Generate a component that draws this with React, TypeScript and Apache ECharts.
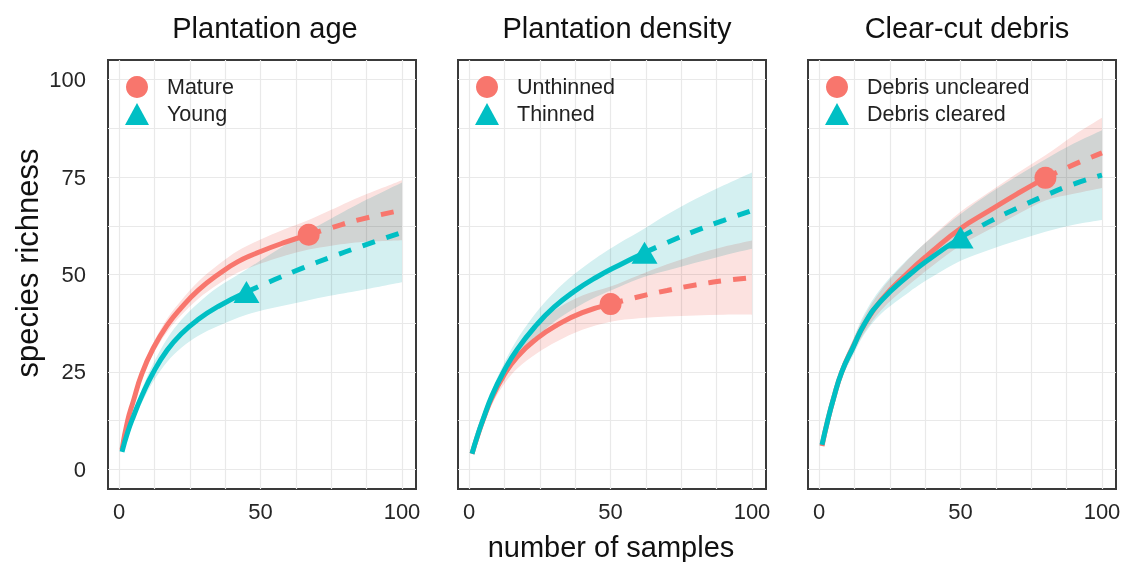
import React, { useEffect, useRef } from "react";
import * as echarts from "echarts";

const FONT = "'Liberation Sans', Arial, Helvetica, sans-serif";
const RED = "#F8766D";
const TEAL = "#00BFC4";
const RED_BAND = "#fce2e0";
const TEAL_BAND = "#d4f0f1";

const panelTitles = ["Plantation age", "Plantation density", "Clear-cut debris"];
const xTickLabels = [0, 50, 100];
const yTickLabels = [0, 25, 50, 75, 100];
const gridSteps = [0, 12.5, 25, 37.5, 50, 62.5, 75, 87.5, 100];

// Panel 1: Plantation age
const matureX = [1, 3, 5, 8, 12, 17, 22, 28, 35, 42, 50, 58, 67, 75, 85, 100];
const matureY = [5, 12.5, 17.5, 24.5, 31, 37, 41.5, 46, 50, 53.3, 55.9, 58.1, 60.2, 62, 64.1, 66.5];
const matureLo = [4.7, 11.9, 16.7, 23.4, 29.6, 35.3, 39.6, 43.8, 47.5, 50.5, 52.8, 54.7, 56.4, 57.4, 58.3, 58.8];
const matureHi = [5.3, 13.1, 18.3, 25.6, 32.4, 38.7, 43.4, 48.2, 52.5, 56.1, 59.0, 61.5, 64.0, 66.6, 69.9, 74.2];
const matureObs = 67;

const youngX = [1, 3, 5, 8, 12, 17, 22, 28, 35, 45, 55, 65, 75, 85, 100];
const youngY = [4.5, 9.5, 13.5, 18.8, 24.8, 30.6, 34.8, 38.5, 41.8, 45.5, 48.7, 51.7, 54.5, 57.1, 60.8];
const youngLo = [4.2, 8.8, 12.3, 17.1, 22.5, 27.6, 31.2, 34.3, 36.8, 39.7, 41.5, 43.1, 44.6, 45.9, 48.0];
const youngHi = [4.8, 10.2, 14.7, 20.5, 27.1, 33.6, 38.4, 42.7, 46.8, 51.3, 55.9, 60.3, 64.4, 68.3, 73.6];
const youngObs = 45;

// Panel 2: Plantation density
const unthinnedX = [1, 3, 5, 8, 12, 17, 24, 31, 40, 50, 60, 70, 80, 90, 100];
const unthinnedY = [4, 8.6, 12.8, 18.3, 23.8, 28.9, 33.6, 37, 40.2, 42.4, 44.3, 45.9, 47.3, 48.4, 49.2];
const unthinnedLo = [3.7, 7.9, 11.6, 16.5, 21.5, 25.9, 29.8, 32.8, 35.8, 37.9, 38.8, 39.2, 39.5, 39.7, 39.7];
const unthinnedHi = [4.3, 9.3, 14.0, 20.1, 26.1, 31.9, 37.4, 41.2, 44.6, 46.9, 49.8, 52.6, 55.1, 57.1, 58.7];
const unthinnedObs = 50;

const thinnedX = [1, 3, 5, 8, 12, 17, 24, 30, 37, 45, 53, 62, 70, 80, 90, 100];
const thinnedY = [4, 8.8, 13, 18.8, 24.8, 30.8, 37.2, 41.6, 45.6, 49.3, 52.4, 55.6, 58.2, 61.2, 63.9, 66.4];
const thinnedLo = [3.7, 8.2, 12.0, 17.4, 22.9, 28.2, 33.9, 37.8, 41.2, 44.3, 46.8, 49.4, 51.0, 53.0, 54.9, 56.6];
const thinnedHi = [4.3, 9.4, 14.0, 20.2, 26.7, 33.4, 40.5, 45.4, 50.0, 54.3, 58.0, 61.8, 65.4, 69.4, 72.9, 76.2];
const thinnedObs = 62;

// Panel 3: Clear-cut debris
const unclearedX = [1, 3, 5, 8, 12, 16, 22, 31, 40, 50, 60, 70, 80, 90, 100];
const unclearedY = [6, 12.5, 18, 25, 31.5, 37.2, 43.5, 50.2, 56, 61.8, 66.3, 70.7, 74.8, 78.2, 81.2];
const unclearedLo = [5.7, 11.9, 17.0, 23.7, 29.8, 35.1, 40.9, 46.9, 52.2, 57.5, 61.5, 65.4, 69.0, 70.7, 72.2];
const unclearedHi = [6.3, 13.1, 19.0, 26.3, 33.2, 39.3, 46.1, 53.5, 59.8, 66.1, 71.1, 76.0, 80.6, 85.7, 90.2];
const unclearedObs = 80;

const clearedX = [1, 3, 5, 8, 12, 16, 22, 32, 40, 50, 60, 70, 80, 90, 100];
const clearedY = [6.3, 12.5, 18, 25, 31.3, 37.3, 43.3, 50, 54.5, 59.5, 63.5, 67, 70.3, 73.2, 75.5];
const clearedLo = [6.0, 11.7, 16.8, 23.4, 29.2, 34.7, 40.0, 45.6, 49.4, 53.5, 56.3, 58.7, 61.0, 62.8, 64.0];
const clearedHi = [6.6, 13.3, 19.2, 26.6, 33.4, 39.9, 46.6, 54.4, 59.6, 65.5, 70.7, 75.3, 79.6, 83.6, 87.0];
const clearedObs = 50;

type Curve = {
  name: string;
  x: number[];
  y: number[];
  lo: number[];
  hi: number[];
  obs: number;
  shape: string;
  color: string;
  band: string;
  size: number | number[];
};

const panels: Curve[][] = [
  [
    { name: "Mature", x: matureX, y: matureY, lo: matureLo, hi: matureHi, obs: matureObs, shape: "circle", color: RED, band: RED_BAND, size: 22 },
    { name: "Young", x: youngX, y: youngY, lo: youngLo, hi: youngHi, obs: youngObs, shape: "triangle", color: TEAL, band: TEAL_BAND, size: [26, 22] },
  ],
  [
    { name: "Unthinned", x: unthinnedX, y: unthinnedY, lo: unthinnedLo, hi: unthinnedHi, obs: unthinnedObs, shape: "circle", color: RED, band: RED_BAND, size: 22 },
    { name: "Thinned", x: thinnedX, y: thinnedY, lo: thinnedLo, hi: thinnedHi, obs: thinnedObs, shape: "triangle", color: TEAL, band: TEAL_BAND, size: [26, 22] },
  ],
  [
    { name: "Debris uncleared", x: unclearedX, y: unclearedY, lo: unclearedLo, hi: unclearedHi, obs: unclearedObs, shape: "circle", color: RED, band: RED_BAND, size: 22 },
    { name: "Debris cleared", x: clearedX, y: clearedY, lo: clearedLo, hi: clearedHi, obs: clearedObs, shape: "triangle", color: TEAL, band: TEAL_BAND, size: [26, 22] },
  ],
];

const PANEL_LEFT = 108;
const PANEL_STEP = 350;
const PANEL_W = 308;
const PANEL_TOP = 60;
const PANEL_H = 429;
const titleCenters = [265, 617, 967];
const SMOOTH = 0.5;
const LINE_W = 5;

// Catmull-Rom style cubic segments through pixel points (rendering only)
function smoothSegments(pts: number[][]): string {
  let d = "";
  for (let i = 0; i < pts.length - 1; i++) {
    const p0 = pts[i - 1] || pts[i];
    const p1 = pts[i];
    const p2 = pts[i + 1];
    const p3 = pts[i + 2] || pts[i + 1];
    const c1x = p1[0] + (p2[0] - p0[0]) / 6;
    const c1y = p1[1] + (p2[1] - p0[1]) / 6;
    const c2x = p2[0] - (p3[0] - p1[0]) / 6;
    const c2y = p2[1] - (p3[1] - p1[1]) / 6;
    d += ` C ${c1x.toFixed(2)} ${c1y.toFixed(2)} ${c2x.toFixed(2)} ${c2y.toFixed(2)} ${p2[0].toFixed(2)} ${p2[1].toFixed(2)}`;
  }
  return d;
}

function buildOption() {
  const grid: any[] = [];
  const xAxis: any[] = [];
  const yAxis: any[] = [];
  const legend: any[] = [];
  const series: any[] = [];

  panels.forEach((curves, i) => {
    grid.push({
      left: PANEL_LEFT + PANEL_STEP * i,
      top: PANEL_TOP,
      width: PANEL_W,
      height: PANEL_H,
      show: true,
      borderColor: "#3a3a3a",
      borderWidth: 2,
      backgroundColor: "#ffffff",
      containLabel: false,
      outerBoundsMode: "none",
    });
    xAxis.push({
      type: "value",
      gridIndex: i,
      min: -3.95,
      max: 104.95,
      axisLine: { show: false },
      axisTick: { show: false, customValues: gridSteps },
      axisLabel: {
        customValues: xTickLabels,
        fontSize: 22,
        color: "#262626",
        fontFamily: FONT,
        margin: 11,
      },
      splitLine: { show: true, lineStyle: { color: "#e9e9e9", width: 1.2 } },
    });
    yAxis.push({
      type: "value",
      gridIndex: i,
      min: -5.05,
      max: 105.05,
      axisLine: { show: false },
      axisTick: { show: false, customValues: gridSteps },
      axisLabel: {
        show: i === 0,
        customValues: yTickLabels,
        fontSize: 22,
        color: "#262626",
        fontFamily: FONT,
        margin: 22,
      },
      splitLine: { show: true, lineStyle: { color: "#e9e9e9", width: 1.2 } },
    });
    legend.push({
      orient: "vertical",
      left: 125 + PANEL_STEP * i,
      top: 76,
      padding: 0,
      itemWidth: 24,
      itemHeight: 22,
      itemGap: 5,
      selectedMode: false,
      data: curves.map((c) => ({ name: c.name, icon: c.shape })),
      textStyle: { fontSize: 21.5, color: "#222", fontFamily: FONT, padding: [0, 0, 0, 13] },
    });

    // confidence bands
    curves.forEach((c) => {
      series.push({
        type: "custom",
        xAxisIndex: i,
        yAxisIndex: i,
        silent: true,
        z: 1,
        data: [[50, 50]],
        renderItem: (_params: any, api: any) => {
          const up = c.x.map((xx, k) => api.coord([xx, c.hi[k]]));
          const dn = c.x.map((xx, k) => api.coord([xx, c.lo[k]])).reverse();
          const d =
            `M ${up[0][0].toFixed(2)} ${up[0][1].toFixed(2)}` +
            smoothSegments(up) +
            ` L ${dn[0][0].toFixed(2)} ${dn[0][1].toFixed(2)}` +
            smoothSegments(dn) +
            " Z";
          return {
            type: "path",
            shape: { pathData: d },
            style: { fill: c.band },
          };
        },
      });
    });
    // interpolated (solid) and extrapolated (dashed) curves
    curves.forEach((c) => {
      const pts = c.x.map((xx, k) => [xx, c.y[k]]);
      const oi = c.x.indexOf(c.obs);
      series.push({
        type: "line",
        xAxisIndex: i,
        yAxisIndex: i,
        silent: true,
        z: 2,
        data: pts.slice(0, oi + 1),
        smooth: SMOOTH,
        symbol: "none",
        showSymbol: false,
        lineStyle: { color: c.color, width: LINE_W, cap: "butt" },
      });
      series.push({
        type: "line",
        xAxisIndex: i,
        yAxisIndex: i,
        silent: true,
        z: 2,
        data: pts.slice(oi),
        smooth: SMOOTH,
        symbol: "none",
        showSymbol: false,
        lineStyle: { color: c.color, width: LINE_W, type: [13, 12], cap: "butt" },
      });
    });
    // observed points
    curves.forEach((c) => {
      const oi = c.x.indexOf(c.obs);
      series.push({
        type: "scatter",
        name: c.name,
        xAxisIndex: i,
        yAxisIndex: i,
        silent: true,
        z: 3,
        symbol: c.shape,
        symbolSize: c.size,
        data: [[c.x[oi], c.y[oi]]],
        itemStyle: { color: c.color, opacity: 1 },
      });
    });
  });

  const graphic: any[] = [];
  panelTitles.forEach((t, i) => {
    graphic.push({
      type: "text",
      x: titleCenters[i],
      y: 28,
      silent: true,
      style: {
        text: t,
        fontSize: 29,
        fontFamily: FONT,
        fill: "#111",
        align: "center",
        verticalAlign: "middle",
      },
    });
  });
  graphic.push({
    type: "text",
    x: 611,
    y: 547,
    silent: true,
    style: {
      text: "number of samples",
      fontSize: 29,
      fontFamily: FONT,
      fill: "#111",
      align: "center",
      verticalAlign: "middle",
    },
  });
  graphic.push({
    type: "text",
    x: 27,
    y: 263,
    rotation: Math.PI / 2,
    silent: true,
    style: {
      text: "species richness",
      fontSize: 31,
      fontFamily: FONT,
      fill: "#111",
      align: "center",
      verticalAlign: "middle",
    },
  });

  return {
    animation: false,
    backgroundColor: "#ffffff",
    textStyle: { fontFamily: FONT },
    grid,
    xAxis,
    yAxis,
    legend,
    series,
    graphic,
  };
}

function toHex(v: string | null): string {
  if (!v) return "";
  const s = v.trim().toLowerCase();
  const m = s.match(/^rgba?\((\d+),\s*(\d+),\s*(\d+)/);
  if (m) {
    return "#" + [m[1], m[2], m[3]].map((n) => Number(n).toString(16).padStart(2, "0")).join("");
  }
  return s;
}

export default function App() {
  const ref = useRef<HTMLDivElement>(null);
  useEffect(() => {
    if (!ref.current) return;
    const chart = echarts.init(ref.current, undefined, { renderer: "svg" });
    chart.setOption(buildOption() as any);
    // overlapping confidence bands multiply, so overlaps read as grey
    const bandFills = [RED_BAND.toLowerCase(), TEAL_BAND.toLowerCase()];
    ref.current.querySelectorAll("path, polygon").forEach((el) => {
      const f = toHex((el as SVGElement).getAttribute("fill"));
      if (bandFills.includes(f)) {
        (el as SVGElement).style.mixBlendMode = "multiply";
      }
    });
    return () => chart.dispose();
  }, []);
  return (
    <div
      ref={ref}
      style={{ position: "fixed", left: 0, top: 0, width: 1132, height: 562 }}
    />
  );
}
